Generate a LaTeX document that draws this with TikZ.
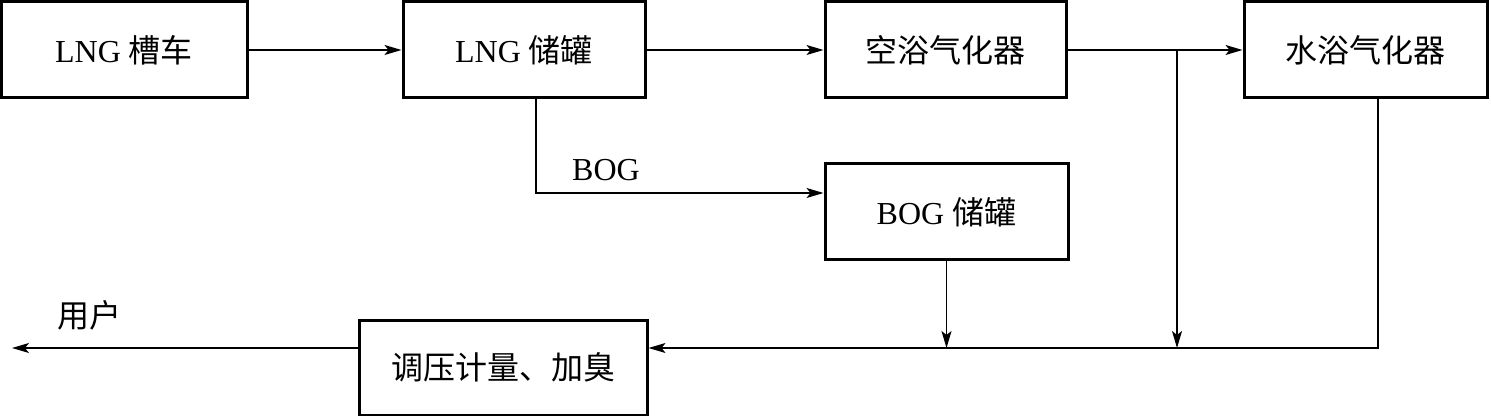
\documentclass[tikz,border=0pt]{standalone}
\usepackage{fontspec}
\setmainfont{Liberation Serif}
\newfontfamily\cjk{Noto Sans CJK SC}
\usetikzlibrary{arrows.meta}

\begin{document}
\begin{tikzpicture}[x=0.5pt,y=-0.5pt,
            box/.style={draw,line width=1.5pt,minimum height=48pt,
                inner sep=0pt,font=\fontsize{16}{19}\selectfont},
            lbl/.style={inner sep=0pt,font=\fontsize{16}{19}\selectfont},
            flow/.style={line width=0.75pt,-{Stealth[length=8.5pt,width=5pt,inset=2pt]}},
            every path/.style={line join=miter}]
            \useasboundingbox (0,0) rectangle (1491,416);

            \node[box,minimum width=123pt]   (truck)    at (124,50)    {LNG {\cjk 槽车}};
            \node[box,minimum width=121pt]   (tank)     at (524,50)    {LNG {\cjk 储罐}};
            \node[box,minimum width=120.5pt] (airvap)   at (945.5,50)  {\cjk 空浴气化器};
            \node[box,minimum width=121.5pt] (watervap) at (1365.5,50) {\cjk 水浴气化器};
            \node[box,minimum width=121.5pt] (bogtank)  at (946.5,212) {BOG {\cjk 储罐}};
            \node[box,minimum width=144pt,minimum height=47.5pt] (regul) at (503,367.5) {\cjk 调压计量、加臭};

            \node[lbl] (boglbl)  at (606,170) {BOG};
            \node[lbl] (userlbl) at (89,315)  {\cjk 用户};

            \coordinate (split)   at (1177,50);
            \coordinate (bogturn) at (536,193);
            \coordinate (merge)   at (1378,348);
            \coordinate (user)    at (12,348);

            \draw[flow] (truck) -- (tank);
            \draw[flow] (tank) -- (airvap);
            \draw[flow] (airvap) -- (watervap);
            \draw[flow] (split) -- (split |- merge);
            \draw[flow] (tank.south -| bogturn) -- (bogturn) -- (bogturn -| bogtank.west);
            \draw[flow] (bogtank.south) -- (bogtank.south |- merge);
            \draw[flow] (watervap.south -| merge) -- (merge) -- (merge -| regul.east);
            \draw[flow] (regul.west |- merge) -- (user);

        \end{tikzpicture}
\end{document}
